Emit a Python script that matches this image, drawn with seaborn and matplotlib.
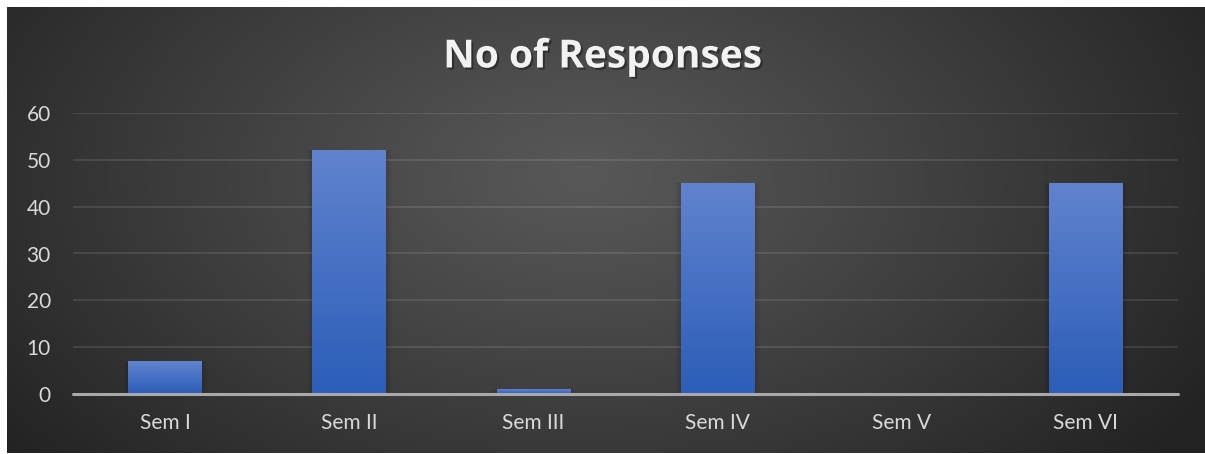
import numpy as np
import matplotlib
matplotlib.use("Agg")
import matplotlib.pyplot as plt
import matplotlib.patheffects as pe
import seaborn as sns
import pandas as pd

categories = ["Sem I", "Sem II", "Sem III", "Sem IV", "Sem V", "Sem VI"]
responses = [7, 52, 1, 45, 0, 45]
yticks = [0, 10, 20, 30, 40, 50, 60]
title = "No of Responses"

sns.set_theme(style="dark")
plt.rcParams['font.family'] = ['Lato', 'DejaVu Sans']

W, H = 1205, 454
fig = plt.figure(figsize=(W / 100, H / 100), dpi=100, facecolor='white')

# background panel with radial gradient
bx0, by0, bw, bh = 7, 1, 1198, 446
bg = fig.add_axes([bx0 / W, by0 / H, bw / W, bh / H])
yy, xx = np.mgrid[0:bh, 0:bw]
cx, cy = 0.48 * bw, 0.62 * bh
r = np.sqrt(((xx - cx) / (0.62 * bw)) ** 2 + ((yy - cy) / (1.0 * bh)) ** 2)
r = np.clip(r, 0, 1)
val = 88 - (88 - 34) * r ** 1.1
img = np.dstack([val, val, val]) / 255.0
bg.imshow(img, aspect='auto', extent=[0, 1, 0, 1], origin='lower')
bg.set_axis_off()

# plot axes
ax = fig.add_axes([73 / W, (H - 394) / H, (1178 - 73) / W, (394 - 113) / H])
ax.set_facecolor('none')
df = pd.DataFrame({"cat": categories, "val": responses})
sns.barplot(data=df, x="cat", y="val", width=0.4, color="#4472c4",
            saturation=1, ax=ax, zorder=3)

# gradient fill on bars
top = np.array([96, 131, 206]) / 255.0
bot = np.array([44, 93, 184]) / 255.0
grad = np.linspace(0, 1, 256)[:, None, None]
gimg = bot + (top - bot) * grad
gimg = np.repeat(gimg, 2, axis=1)
for p in list(ax.patches):
    x0, w_, hgt = p.get_x(), p.get_width(), p.get_height()
    p.set_edgecolor('none')
    if hgt <= 0:
        continue
    p.set_facecolor('none')
    # soft shadow
    for k, a in [(0.03, 0.03), (0.02, 0.04), (0.01, 0.05)]:
        ax.add_patch(plt.Rectangle((x0 - k, -0.9), w_ + 2 * k, hgt + 0.9,
                                   color='black', alpha=a, zorder=2, lw=0))
    im = ax.imshow(gimg, aspect='auto', extent=[x0, x0 + w_, 0, hgt],
                   origin='lower', zorder=3)
    im.set_clip_path(p)
ax.set_xlim(-0.5, len(categories) - 0.5)
ax.set_ylim(0, 60)
ax.set_yticks(yticks)
ax.set_xlabel("")
ax.set_ylabel("")

for y in yticks[1:]:
    ax.axhline(y, color='#ffffff', alpha=0.12, lw=1.2, zorder=1)
ax.axhline(0, color='#a9a9a9', lw=2.2, zorder=4, clip_on=False)

for s in ax.spines.values():
    s.set_visible(False)
ax.grid(False)
ax.tick_params(axis='both', length=0, colors='#d9d9d9', labelsize=15)
ax.tick_params(axis='y', pad=16)
ax.tick_params(axis='x', pad=14)

fig.text(0.5, (H - 57) / H, title, ha='center', va='center', fontsize=28,
         fontweight='bold', color='#f2f2f2', family=['Open Sans', 'DejaVu Sans'],
         path_effects=[pe.withSimplePatchShadow(offset=(1.5, -1.5),
                                                shadow_rgbFace='black', alpha=0.35)])

fig.savefig("out.png", dpi=100, facecolor='white')
